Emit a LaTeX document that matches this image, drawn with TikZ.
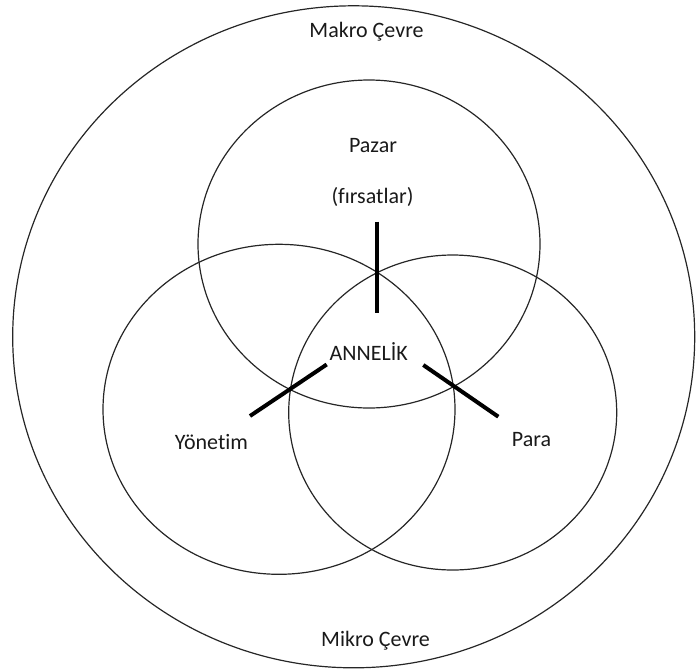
\documentclass[tikz,border=0pt]{standalone}
\usepackage{fontspec}
\setmainfont{Carlito}[Ligatures=NoCommon]
\begin{document}
\begin{tikzpicture}[x=1pt,y=-1pt,
  ring/.style={draw=black!85, line width=1.2pt},
  spoke/.style={draw=black, line width=4pt},
  lbl/.style={font=\fontsize{22}{26}\selectfont, text=black!90, inner sep=0pt}]
  \useasboundingbox (0,0) rectangle (696,670);

  % environment and the three overlapping fields
  \draw[ring] (353.7,336.8) ellipse [x radius=341, y radius=331];
  \draw[ring] (369,244) ellipse [x radius=171, y radius=164];
  \draw[ring] (279,409.3) ellipse [x radius=176, y radius=165];
  \draw[ring] (452.7,412.5) ellipse [x radius=164, y radius=157.5];

  % labels
  \node[lbl] (makro) at (366.5,32) {Makro Çevre};
  \node[lbl] (pazar) at (373,146) {Pazar};
  \node[lbl] (firsat) at (372.5,197) {(fırsatlar)};
  \node[lbl] (anne) at (368.7,352) {ANNELİK};
  \node[lbl] (yon) at (211.5,442) {Yönetim};
  \node[lbl] (para) at (531.5,440) {Para};
  \node[lbl] (mikro) at (375.5,641) {Mikro Çevre};

  % spokes through the intersection points
  \coordinate (vt) at (377,221.5);
  \coordinate (vb) at (377,313);
  \coordinate (lt) at (326.7,364.5);
  \coordinate (lb) at (250,416);
  \coordinate (rt) at (423.3,365);
  \coordinate (rb) at (498.3,416.7);
  \draw[spoke] (vt) -- (vb);
  \draw[spoke] (lt) -- (lb);
  \draw[spoke] (rt) -- (rb);
\end{tikzpicture}
\end{document}
